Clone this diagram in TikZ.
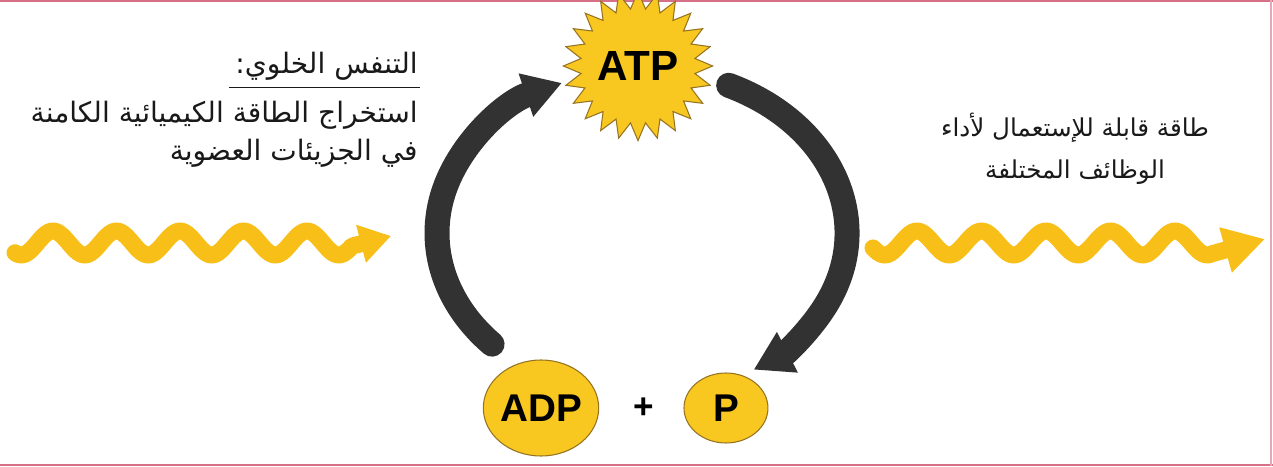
\documentclass[tikz,border=0pt]{standalone}
\usepackage{fontspec}
\usepackage{xcolor}
\usepackage{tikz}
\usetikzlibrary{arrows.meta,calc,positioning,shapes.geometric}
\TeXXeTstate=1
\newfontfamily\arabicfont[Script=Arabic]{DejaVu Sans}
\newfontfamily\labelsans{Liberation Sans}
\definecolor{inkDark}{RGB}{50,50,50}
\definecolor{sunFill}{RGB}{248,199,32}
\definecolor{sunEdge}{RGB}{150,115,35}
\definecolor{waveGold}{RGB}{247,191,24}
\definecolor{frameRose}{RGB}{214,112,135}
\definecolor{textInk}{RGB}{25,25,25}

\begin{document}
\begin{tikzpicture}[
    x=0.02cm, y=0.02cm,
    cyclearrow/.style={
      -{Triangle[width=0.86cm,length=0.76cm]},
      line width=0.5cm,
      draw=inkDark,
      line cap=round
    },
    energy/.style={
      line width=0.34cm,
      draw=waveGold,
      line cap=round,
      line join=round
    },
    molecule/.style={
      ellipse,
      draw=sunEdge,
      line width=0.6pt,
      fill=sunFill,
      inner sep=0pt,
      font=\labelsans\bfseries\fontsize{22}{22}\selectfont
    },
    burst/.style={
      star,
      star points=24,
      star point ratio=1.3,
      minimum size=2.5cm,
      inner sep=0pt,
      draw=sunEdge,
      line width=0.6pt,
      fill=sunFill,
      font=\labelsans\bfseries\fontsize{24}{24}\selectfont
    },
    arabic/.style={
      font=\arabicfont\fontsize{16}{22}\selectfont,
      text=textInk,
      inner sep=0pt
    }
  ]
    \useasboundingbox (0,0) rectangle (1273,466);

    % frame
    \draw[frameRose, line width=1.5pt] (0,465) -- (1273,465);
    \draw[frameRose, line width=1.5pt] (0,1) -- (1273,1);
    \draw[frameRose!60, line width=0.6pt] (1271,0) -- (1271,466);

    % ATP / ADP + P
    \node[burst] (atp) at (638,400) {ATP};
    \node[molecule, minimum width=2.24cm, minimum height=1.92cm] (adp) at (541,58) {ADP};
    \node[font=\labelsans\bfseries\fontsize{20}{20}\selectfont, inner sep=0pt,
      right=0.68cm of adp] (plus) {+};
    \node[molecule, minimum width=1.68cm, minimum height=1.4cm,
      right=0.58cm of plus] (pi) {P};

    % cycle
    \coordinate (hub) at (642,233);
    \draw[cyclearrow] ($(hub)+(223:205 and 163)$)
      arc[start angle=223, end angle=113, x radius=205, y radius=163];
    \draw[cyclearrow] ($(hub)+(65:205 and 163)$)
      arc[start angle=65, end angle=-57, x radius=205, y radius=163];

    % energy in / out
    \coordinate (inTip) at (391,230);
    \coordinate (outTip) at (1265,227);
    \draw[energy, -{Triangle[width=0.74cm,length=0.62cm]}]
      plot[domain=15:352, samples=140, smooth] (\x,{223+12*sin(5.6693*(\x-53)+90)})
      -- (inTip);
    \draw[energy, -{Triangle[width=0.88cm,length=0.82cm]}]
      plot[domain=873:1212, samples=140, smooth] (\x,{223+12*sin(5.5814*(\x-917)+90)})
      -- (outTip);

    % texts
    \node[arabic, anchor=east] (resp) at (418,400) {\beginR التنفس الخلوي:\endR};
    \draw[textInk, line width=0.9pt]
      ($(resp.south west)+(-6,-7)$) -- ($(resp.south east)+(2,-7)$);
    \node[arabic, align=right, below=0.4cm of resp.south east,
      anchor=north east] (respText) {%
      \beginR استخراج الطاقة الكيميائية الكامنة\endR\\
      \beginR في الجزيئات العضوية\endR};
    \node[arabic, align=center, font=\arabicfont\fontsize{14}{24}\selectfont]
      (useText) at (1075,317) {%
      \beginR طاقة قابلة للإستعمال لأداء\endR\\
      \beginR الوظائف المختلفة\endR};
  \end{tikzpicture}
\end{document}
